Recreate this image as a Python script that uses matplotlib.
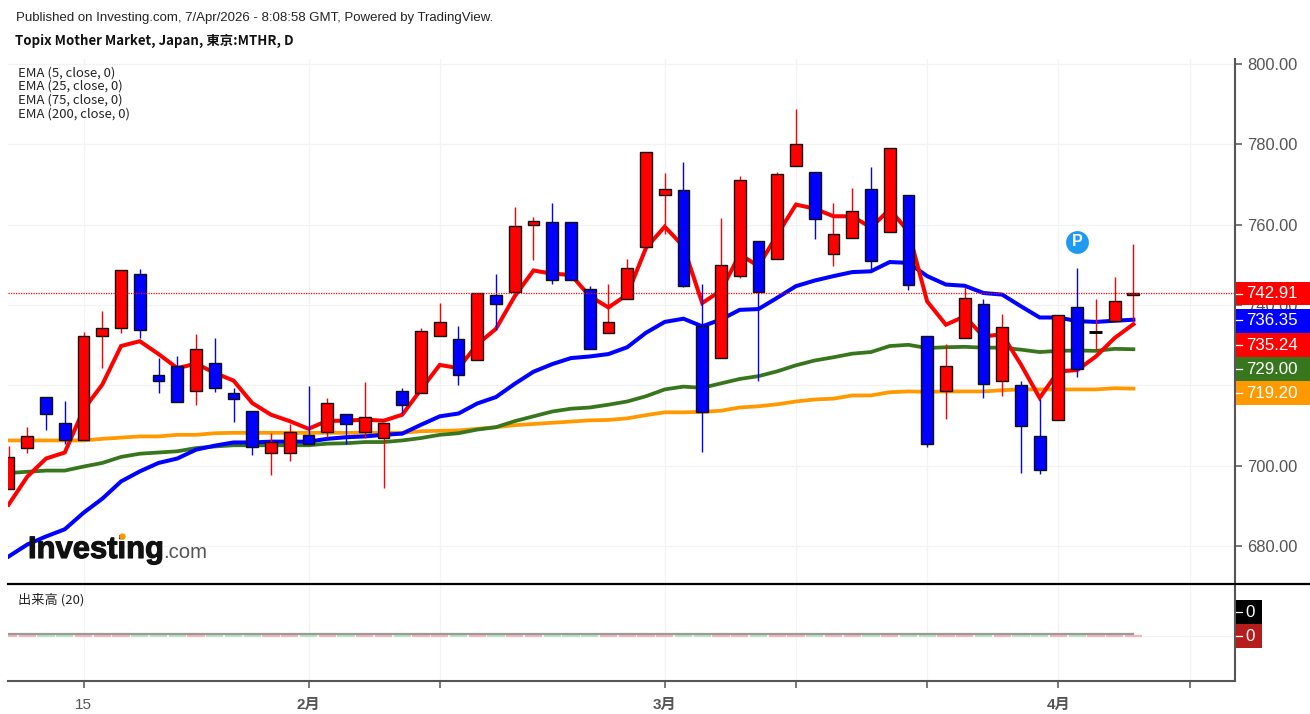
import matplotlib
matplotlib.use("Agg")
import matplotlib.pyplot as plt
import matplotlib.patheffects as pe
from matplotlib.patches import Rectangle
from matplotlib.lines import Line2D
from matplotlib.transforms import ScaledTranslation

opens = [694.3,704.3,717.0,710.7,706.5,732.3,734.2,747.8,722.7,724.9,718.5,725.7,718.2,713.7,703.2,703.2,707.7,708.4,713.0,708.4,706.9,
         718.5,718.1,732.3,731.6,726.4,742.5,743.2,760.0,760.7,760.7,743.9,733.1,741.6,754.4,767.4,768.6,734.7,726.9,747.3,755.9,
         751.4,774.6,773.2,752.8,756.6,769.0,758.1,767.5,732.4,718.5,731.7,740.3,721.1,720.0,707.3,711.4,739.5,733.4,736.1,742.4]
closes = [702.2,707.3,713.0,706.5,732.4,734.3,748.8,733.8,721.1,715.9,729.1,719.3,716.6,704.7,705.9,708.4,705.4,715.6,710.3,712.2,710.7,
          715.1,733.5,735.7,722.6,742.9,740.2,759.6,760.8,746.2,746.2,729.0,735.7,749.2,778.0,769.0,744.7,713.3,749.9,771.2,743.3,
          772.7,780.2,761.5,757.8,763.4,751.0,779.0,745.0,705.4,724.9,741.7,720.4,734.6,709.9,699.0,737.6,724.2,733.4,740.9,742.91]
highs = [705.0,709.7,717.0,716.1,733.2,738.5,748.8,749.0,726.9,727.3,732.9,731.8,719.4,713.7,708.2,710.5,719.8,716.8,713.0,720.9,710.7,
         719.4,734.3,740.4,734.7,742.9,747.8,764.3,762.0,765.4,760.7,744.8,745.3,751.5,778.0,772.9,775.5,745.3,761.7,772.2,755.9,
         773.2,788.7,773.2,765.4,769.2,774.4,779.0,767.5,732.4,730.3,744.4,741.5,737.8,721.0,716.5,737.6,749.2,741.5,747.0,755.2]
lows = [694.3,703.1,709.0,705.3,706.5,724.4,733.0,731.7,718.0,715.9,715.0,718.3,710.8,702.6,697.8,701.1,705.4,707.2,705.3,706.8,694.5,
        713.1,718.1,732.3,720.2,726.4,733.9,743.2,751.2,745.3,746.2,729.0,733.1,741.6,754.4,757.6,744.5,703.4,726.9,746.7,721.0,
        751.4,774.6,756.5,749.8,756.6,748.8,758.1,743.7,704.6,711.6,731.7,716.9,717.3,698.2,697.9,711.4,722.1,728.9,736.1,736.4]
ema5 = [690.3,697.3,701.8,703.3,714.0,720.2,729.8,731.0,727.8,724.3,725.4,723.1,721.2,715.6,712.7,711.1,709.2,711.2,711.2,711.5,711.2,
        712.7,719.0,725.1,724.3,730.2,734.1,742.2,748.6,747.8,747.5,742.2,739.4,742.6,754.2,759.5,754.6,740.5,743.6,752.6,749.7,
        757.5,765.0,764.0,762.1,762.1,759.3,763.8,758.3,740.9,735.1,737.2,732.2,732.7,725.2,716.9,723.5,723.8,727.2,731.8,735.24]
ema25 = [677.4,680.4,682.4,684.2,688.3,691.8,696.1,698.6,700.7,701.8,704.0,705.0,705.8,705.8,706.0,706.0,706.0,706.7,707.1,707.3,707.7,
         708.0,710.2,712.3,713.0,715.5,717.1,720.4,723.4,725.3,726.8,727.2,727.8,729.5,733.1,735.8,736.6,734.7,736.4,738.8,739.0,
         741.8,744.7,746.1,747.2,748.2,748.4,750.7,750.5,747.2,745.1,744.8,743.0,742.6,739.7,736.9,736.9,736.0,735.8,736.1,736.35]
ema75 = [698.2,698.5,698.8,698.8,699.8,700.7,702.2,703.0,703.3,703.6,704.4,704.8,705.1,705.1,705.1,705.1,705.1,705.5,705.6,705.9,705.9,
         706.3,706.9,707.7,708.1,709.0,709.6,711.1,712.3,713.5,714.2,714.5,715.2,716.0,717.3,719.0,719.7,719.4,720.5,721.6,722.3,
         723.5,725.0,726.2,727.0,727.9,728.3,729.8,730.1,729.3,729.5,729.6,729.4,729.4,728.9,728.3,728.6,728.7,728.6,729.1,729.00]
ema200 = [706.3,706.3,706.3,706.3,706.3,706.7,707.0,707.3,707.3,707.7,707.7,708.1,708.2,708.2,708.2,708.2,708.2,708.2,708.2,708.2,708.2,
          708.2,708.6,708.7,708.8,709.2,709.6,710.1,710.4,710.7,711.0,711.3,711.4,711.8,712.6,713.3,713.3,713.4,713.7,714.5,714.8,
          715.3,716.0,716.5,716.7,717.5,717.5,718.3,718.5,718.4,718.5,718.5,718.5,718.8,719.0,719.0,719.0,719.0,719.0,719.3,719.20]
volume = [0] * 61
volume_ma = [0] * 61
price_ticks = [680, 700, 720, 740, 760, 780, 800]
hidden_price_labels = [720]  # fully covered by the orange last-value box in the reference
date_ticks = [4, 16, 23, 35, 42, 49, 56, 63]
date_labels = ["15", "2月", "", "3月", "", "", "4月", ""]
ema_names = ["EMA (5, close, 0)", "EMA (25, close, 0)", "EMA (75, close, 0)", "EMA (200, close, 0)"]

RED, BLUE, GREEN, ORANGE = "#ff0000", "#0000ff", "#38761d", "#ff9900"
W, H = 1310, 714
CJK = ["Noto Sans CJK JP", "DejaVu Sans"]
SANS = ["Liberation Sans", "Noto Sans CJK JP", "DejaVu Sans"]


def fx(px):
    return px / W


def fy(py):
    return 1 - py / H


fig = plt.figure(figsize=(W / 100, H / 100), dpi=100, facecolor="white")
ax = fig.add_axes([fx(8), fy(584), fx(1235 - 8), (584 - 59) / H])
vol = fig.add_axes([fx(8), fy(681), fx(1235 - 8), (681 - 584) / H], sharex=ax)
for a in (ax, vol):
    a.set_facecolor("white")
    for s in ("top", "left", "bottom"):
        a.spines[s].set_visible(False)
    a.spines["right"].set_color("#555555")
    a.spines["right"].set_linewidth(1.5)
    a.yaxis.tick_right()
    a.grid(True, color="#f3f3f3", lw=0.9, zorder=0)
    a.set_axisbelow(True)

# price pane
idx = list(range(len(closes)))
ax.set_xlim(-0.03, 65.42)
ax.set_ylim(670.57, 801.24)
ax.set_yticks(price_ticks)
ax.set_yticklabels(["" if p in hidden_price_labels else f"{p:.2f}" for p in price_ticks],
                   family=SANS, fontsize=11.9, color="#555555")
ax.tick_params(axis="y", length=5, width=1.1, color="#555555", pad=4)
ax.tick_params(axis="x", length=0, labelbottom=False)
ax.set_xticks(date_ticks)

for series, col, lw in ((ema200, ORANGE, 2.7), (ema75, GREEN, 2.7), (ema25, BLUE, 2.9), (ema5, RED, 2.9)):
    ax.plot(idx, series, color=col, lw=lw, solid_joinstyle="miter", zorder=2)

for i, o, c, h, l in zip(idx, opens, closes, highs, lows):
    if o == c:
        ax.vlines(i, l, h, color=RED, lw=1.0, zorder=3)
        ax.hlines(o, i - 0.35, i + 0.35, color="black", lw=2.1, zorder=4)
        continue
    col = RED if c > o else BLUE
    ax.vlines(i, l, h, color=col, lw=1.0, zorder=3)
    ax.bar(i, abs(c - o), bottom=min(o, c), width=0.63, color=col,
           edgecolor="#111111", lw=1.0, zorder=4)

ax.axhline(closes[-1], color=RED, lw=0.9, ls=(0, (1, 1)), zorder=5)

# pivot marker
ax.scatter([57], [755.6], s=270, color="#1e9bf0", linewidths=0, zorder=6)
ax.text(57, 755.7, "P", color="white", ha="center", va="center",
        family=SANS, fontsize=11.5, fontweight="bold", zorder=7)

# volume pane
vol.set_ylim(-45, 52)
vol.set_yticks([0])
vol.set_yticklabels([""])
vol.tick_params(axis="y", length=0)
vol.spines["bottom"].set_visible(True)
vol.spines["bottom"].set_color("#555555")
vol.spines["bottom"].set_linewidth(1.5)
vol.set_xticks(date_ticks)
vol.set_xticklabels(date_labels, family=SANS, fontsize=11, color="#555555")
for lab, txt in zip(vol.get_xticklabels(), date_labels):
    if "月" in txt:
        lab.set_fontweight("bold")
vol.tick_params(axis="x", length=5, width=1.1, color="#555555", pad=7)
vol_colors = ["#f4b6b6" if c >= o else "#b9e3bd" for o, c in zip(opens, closes)]
vol.bar(idx, volume, width=0.92, color=vol_colors, edgecolor=vol_colors, lw=1.6, zorder=2)
shift = vol.transData + ScaledTranslation(0, 1.6 / 100, fig.dpi_scale_trans)
vol.plot(idx, volume_ma, color="#9a9a9a", lw=1.6, transform=shift, zorder=3)
ax.set_zorder(2)
vol.set_zorder(1)

# separator between panes
fig.add_artist(Line2D([fx(8), 1], [fy(584), fy(584)], color="black", lw=1.6, zorder=8))


def value_box(top, bottom, colour, text, right=1310, size=12.2, cx=1272):
    fig.add_artist(Rectangle((fx(1236), fy(bottom)), fx(right - 1236), (bottom - top) / H,
                             transform=fig.transFigure, color=colour, lw=0, zorder=9))
    fig.add_artist(Line2D([fx(1236), fx(1242)], [fy((top + bottom) / 2)] * 2, color="white", lw=0.9, zorder=10))
    fig.text(fx(cx), fy((top + bottom) / 2 + 0.5), text, color="white", ha="center", va="center",
             family=SANS, fontsize=size, zorder=10)


value_box(282, 305, RED, f"{closes[-1]:.2f}")
value_box(308.5, 332.5, BLUE, f"{ema25[-1]:.2f}")
value_box(332.5, 357, RED, f"{ema5[-1]:.2f}")
value_box(357, 381, GREEN, f"{ema75[-1]:.2f}")
value_box(381, 404.5, ORANGE, f"{ema200[-1]:.2f}")
value_box(600, 624, "black", f"{volume_ma[-1]}", right=1262, cx=1250)
value_box(624, 648, "#b71c1c", f"{volume[-1]}", right=1262, cx=1250)

# header texts
fig.text(fx(16), fy(17.5), "Published on Investing.com, 7/Apr/2026 - 8:08:58 GMT, Powered by TradingView.",
         family=SANS, fontsize=9.55, color="#222222", va="center", zorder=10)
fig.text(fx(15), fy(40.5), "Topix Mother Market, Japan, 東京:MTHR, D",
         family=CJK, fontsize=9.6, fontweight="bold", color="#111111", va="center", zorder=10)
for name, py in zip(ema_names, (73, 86.5, 100, 114)):
    fig.text(fx(18), fy(py), name, family=CJK, fontsize=9.45, color="#222222", va="center", zorder=10)
fig.text(fx(18), fy(600), "出来高 (20)", family=CJK, fontsize=9.5, color="#222222", va="center", zorder=10)

# watermark
fig.text(fx(28), fy(558), "Investing", family=SANS, fontsize=22.3, fontweight="bold",
         color="#111111", va="baseline", zorder=10,
         path_effects=[pe.withStroke(linewidth=0.8, foreground="#111111")])
fig.text(fx(163), fy(558), ".com", family=SANS, fontsize=14.6, color="#555555", va="baseline", zorder=10)
fig.add_artist(Line2D([fx(121.5)], [fy(536)], marker="o", ms=3.6, color=ORANGE, lw=0, zorder=11))

fig.savefig("out.png", dpi=100, facecolor="white")
